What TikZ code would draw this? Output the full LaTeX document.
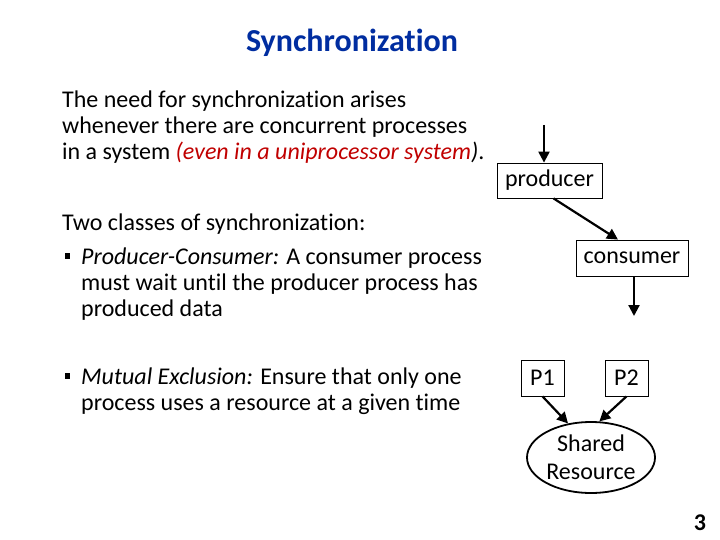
\documentclass[tikz,border=0pt]{standalone}
\usepackage{fontspec}
\setmainfont{Carlito}[Ligatures=NoCommon]
\usetikzlibrary{positioning, shapes.geometric, arrows.meta}

\definecolor{titleblue}{RGB}{0,45,160}
\definecolor{notered}{RGB}{192,0,0}

\begin{document}
\begin{tikzpicture}[x=1pt, y=-1pt,
    body/.style={inner sep=0pt, anchor=base west, align=left, font=\fontsize{24}{26}\selectfont},
    bullet/.style={fill=black, inner sep=0pt, minimum size=5.5pt},
    box/.style={draw, line width=0.8pt, inner sep=0pt, font=\fontsize{24}{26}\selectfont},
    flow/.style={-{Triangle[length=11pt,width=11pt]}, line width=2.2pt}]
  \useasboundingbox (0,0) rectangle (720,540);

  % title and text (base = last line)
  \node[anchor=base, font=\fontsize{32}{34}\selectfont\bfseries, text=titleblue] (title) at (352,52) {Synchronization};
  \node[body] (need) at (62,160) {The need for synchronization arises\\whenever there are concurrent processes\\in a system \textcolor{notered}{\itshape(even in a uniprocessor system}\textit{)}.};
  \node[body] (classes) at (62,230) {Two classes of synchronization:};
  \node[body] (prodcons) at (81,316) {\textit{Producer-Consumer:} A consumer process\\must wait until the producer process has\\produced data};
  \node[body] (mutex) at (81,410) {\textit{Mutual Exclusion:} Ensure that only one\\process uses a resource at a given time};
  \node[bullet] (dot1) at (67.5,256) {};
  \node[bullet] (dot2) at (67.5,376) {};

  % producer / consumer
  \node[box, minimum width=105pt, minimum height=35pt] (prod) at (549.5,180.5) {producer};
  \node[box, minimum width=112pt, minimum height=36pt] (cons) at (632,258) {consumer};
  \coordinate (feed) at (544,125);
  \coordinate (drain) at (634,316);
  \draw[flow] (feed) -- (feed |- prod.north);
  \draw[flow] ([xshift=4pt]prod.south) -- ([xshift=-14pt]cons.north);
  \draw[flow] (drain |- cons.south) -- (drain);

  % mutual exclusion
  \node[box, minimum width=43pt, minimum height=36pt] (p1) at (542.5,378) {P1};
  \node[box, minimum width=43pt, minimum height=36pt] (p2) at (626.5,378) {P2};
  \node[draw, ellipse, line width=1.8pt, minimum width=128pt, minimum height=71pt, inner sep=0pt, align=center, font=\fontsize{24}{28}\selectfont] (res) at (591,457.5) {Shared\\Resource};
  \draw[flow] (p1.south) -- (res.124);
  \draw[flow] (p2.south) -- (res.77);

  \node[anchor=base, font=\fontsize{24}{26}\selectfont\bfseries] (page) at (700,530) {3};
\end{tikzpicture}
\end{document}
